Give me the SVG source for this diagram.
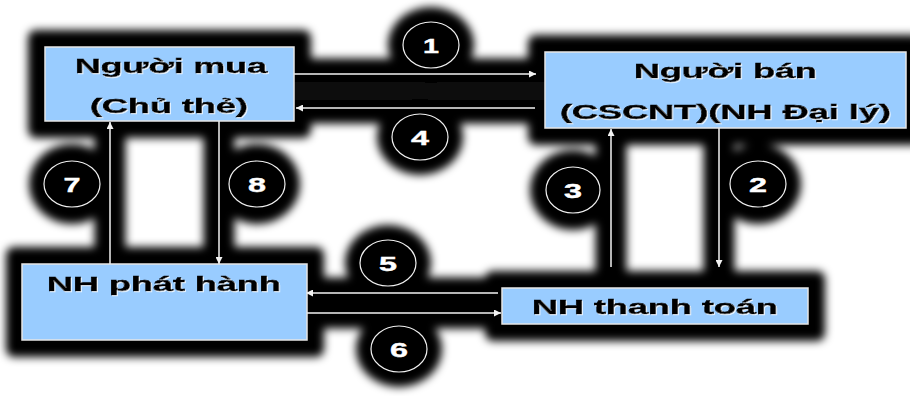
<svg xmlns="http://www.w3.org/2000/svg" width="910" height="396" viewBox="0 0 910 396">
<defs>
<style>
.box{fill:#99CCFF;stroke:#e6e6e6;stroke-width:1.5}
.lbl{font-family:"Liberation Sans",Arial,sans-serif;font-weight:bold;font-size:21px;fill:#000;stroke:#000;stroke-width:0.5;text-anchor:middle}
.num{font-family:"Liberation Sans",Arial,sans-serif;font-weight:bold;font-size:21px;fill:#fff;stroke:#fff;stroke-width:0.4;text-anchor:middle}
.ring{fill:#000;stroke:#f0f0f0;stroke-width:1.2}
.arr{stroke:#f2f2f2;stroke-width:1.5;fill:none;marker-end:url(#ah)}
.g{fill:#000}
.gl{stroke:#000;stroke-width:31;fill:none}
</style>
<marker id="ah" viewBox="0 0 10 10" refX="10" refY="5" markerWidth="11" markerHeight="7" markerUnits="userSpaceOnUse" orient="auto">
<path d="M0,0 L10,5 L0,10 z" fill="#f2f2f2"/>
</marker>
<filter id="blur" filterUnits="userSpaceOnUse" x="0" y="0" width="910" height="396">
<feGaussianBlur stdDeviation="4"/>
</filter>
<filter id="tsh" x="-10%" y="-30%" width="120%" height="160%">
<feDropShadow dx="1" dy="1" stdDeviation="0.4" flood-color="#ffffff" flood-opacity="0.8"/>
</filter>
</defs>
<rect width="910" height="396" fill="#fff"/>
<g id="glow" filter="url(#blur)">
<rect class="g" x="28" y="30" width="283" height="108" rx="8"/>
<rect class="g" x="528" y="35" width="395" height="110" rx="8"/>
<rect class="g" x="6" y="247" width="318" height="110" rx="8"/>
<rect class="g" x="485" y="271" width="340" height="70" rx="8"/>
<line class="gl" x1="294" y1="74" x2="545" y2="74"/>
<line class="gl" x1="294" y1="108" x2="545" y2="108"/>
<rect x="294" y="82" width="251" height="18" fill="#0a0a0a"/>
<line class="gl" x1="307" y1="293" x2="502" y2="293"/>
<line class="gl" x1="307" y1="313" x2="502" y2="313"/>
<line class="gl" x1="110" y1="121" x2="110" y2="264"/>
<line class="gl" x1="219" y1="121" x2="219" y2="264"/>
<line class="gl" x1="611" y1="128" x2="611" y2="288"/>
<line class="gl" x1="719" y1="128" x2="719" y2="288"/>
<ellipse class="g" cx="431" cy="45" rx="43" ry="38"/>
<ellipse class="g" cx="420" cy="137" rx="43" ry="38"/>
<ellipse class="g" cx="72" cy="184" rx="43" ry="40"/>
<ellipse class="g" cx="257" cy="184" rx="43" ry="40"/>
<ellipse class="g" cx="573" cy="190" rx="43" ry="40"/>
<ellipse class="g" cx="758" cy="184" rx="43" ry="40"/>
<ellipse class="g" cx="388" cy="263" rx="43" ry="38"/>
<ellipse class="g" cx="399" cy="349" rx="43" ry="38"/>
</g>
<g id="connectors">
<line class="arr" x1="294" y1="74" x2="536" y2="74"/>
<line class="arr" x1="535" y1="108" x2="296" y2="108"/>
<line class="arr" x1="110" y1="264" x2="110" y2="122"/>
<line class="arr" x1="219" y1="121" x2="219" y2="264"/>
<line class="arr" x1="611" y1="267" x2="611" y2="129"/>
<line class="arr" x1="719" y1="128" x2="719" y2="267"/>
<line class="arr" x1="498" y1="293" x2="306" y2="293"/>
<line class="arr" x1="307" y1="313" x2="501" y2="313"/>
<g id="c1"><ellipse class="ring" cx="431" cy="45" rx="28" ry="23"/><text class="num" x="431" y="53" textLength="16" lengthAdjust="spacingAndGlyphs">1</text></g>
<g id="c2"><ellipse class="ring" cx="758" cy="184" rx="28" ry="23"/><text class="num" x="758" y="192" textLength="18" lengthAdjust="spacingAndGlyphs">2</text></g>
<g id="c3"><ellipse class="ring" cx="573" cy="190" rx="27" ry="23"/><text class="num" x="573" y="198" textLength="18" lengthAdjust="spacingAndGlyphs">3</text></g>
<g id="c4"><ellipse class="ring" cx="420" cy="137" rx="28" ry="23"/><text class="num" x="420" y="145" textLength="18" lengthAdjust="spacingAndGlyphs">4</text></g>
<g id="c5"><ellipse class="ring" cx="388" cy="263" rx="28" ry="23"/><text class="num" x="388" y="271" textLength="18" lengthAdjust="spacingAndGlyphs">5</text></g>
<g id="c6"><ellipse class="ring" cx="399" cy="349" rx="28" ry="23"/><text class="num" x="399" y="357" textLength="18" lengthAdjust="spacingAndGlyphs">6</text></g>
<g id="c7"><ellipse class="ring" cx="72" cy="184" rx="28" ry="23"/><text class="num" x="72" y="192" textLength="17" lengthAdjust="spacingAndGlyphs">7</text></g>
<g id="c8"><ellipse class="ring" cx="257" cy="184" rx="28" ry="23"/><text class="num" x="257" y="192" textLength="18" lengthAdjust="spacingAndGlyphs">8</text></g>
</g>
<g id="node-nguoi-mua">
<rect class="box" x="45" y="47" width="249" height="74"/>
<text class="lbl" filter="url(#tsh)" x="171" y="73" textLength="192" lengthAdjust="spacingAndGlyphs">Người mua</text>
<text class="lbl" filter="url(#tsh)" x="169" y="113" textLength="158" lengthAdjust="spacingAndGlyphs">(Chủ thẻ)</text>
</g>
<g id="node-nguoi-ban">
<rect class="box" x="545" y="52" width="361" height="76"/>
<text class="lbl" filter="url(#tsh)" x="725.5" y="78" textLength="183" lengthAdjust="spacingAndGlyphs">Người bán</text>
<text class="lbl" filter="url(#tsh)" x="725.5" y="119" textLength="331" lengthAdjust="spacingAndGlyphs">(CSCNT)(NH Đại lý)</text>
</g>
<g id="node-nh-phat-hanh">
<rect class="box" x="22" y="264" width="285" height="76"/>
<text class="lbl" filter="url(#tsh)" x="164" y="291" textLength="234" lengthAdjust="spacingAndGlyphs">NH phát hành</text>
</g>
<g id="node-nh-thanh-toan">
<rect class="box" x="502" y="288" width="306" height="36"/>
<text class="lbl" filter="url(#tsh)" x="655" y="314" textLength="246" lengthAdjust="spacingAndGlyphs">NH thanh toán</text>
</g>
</svg>
